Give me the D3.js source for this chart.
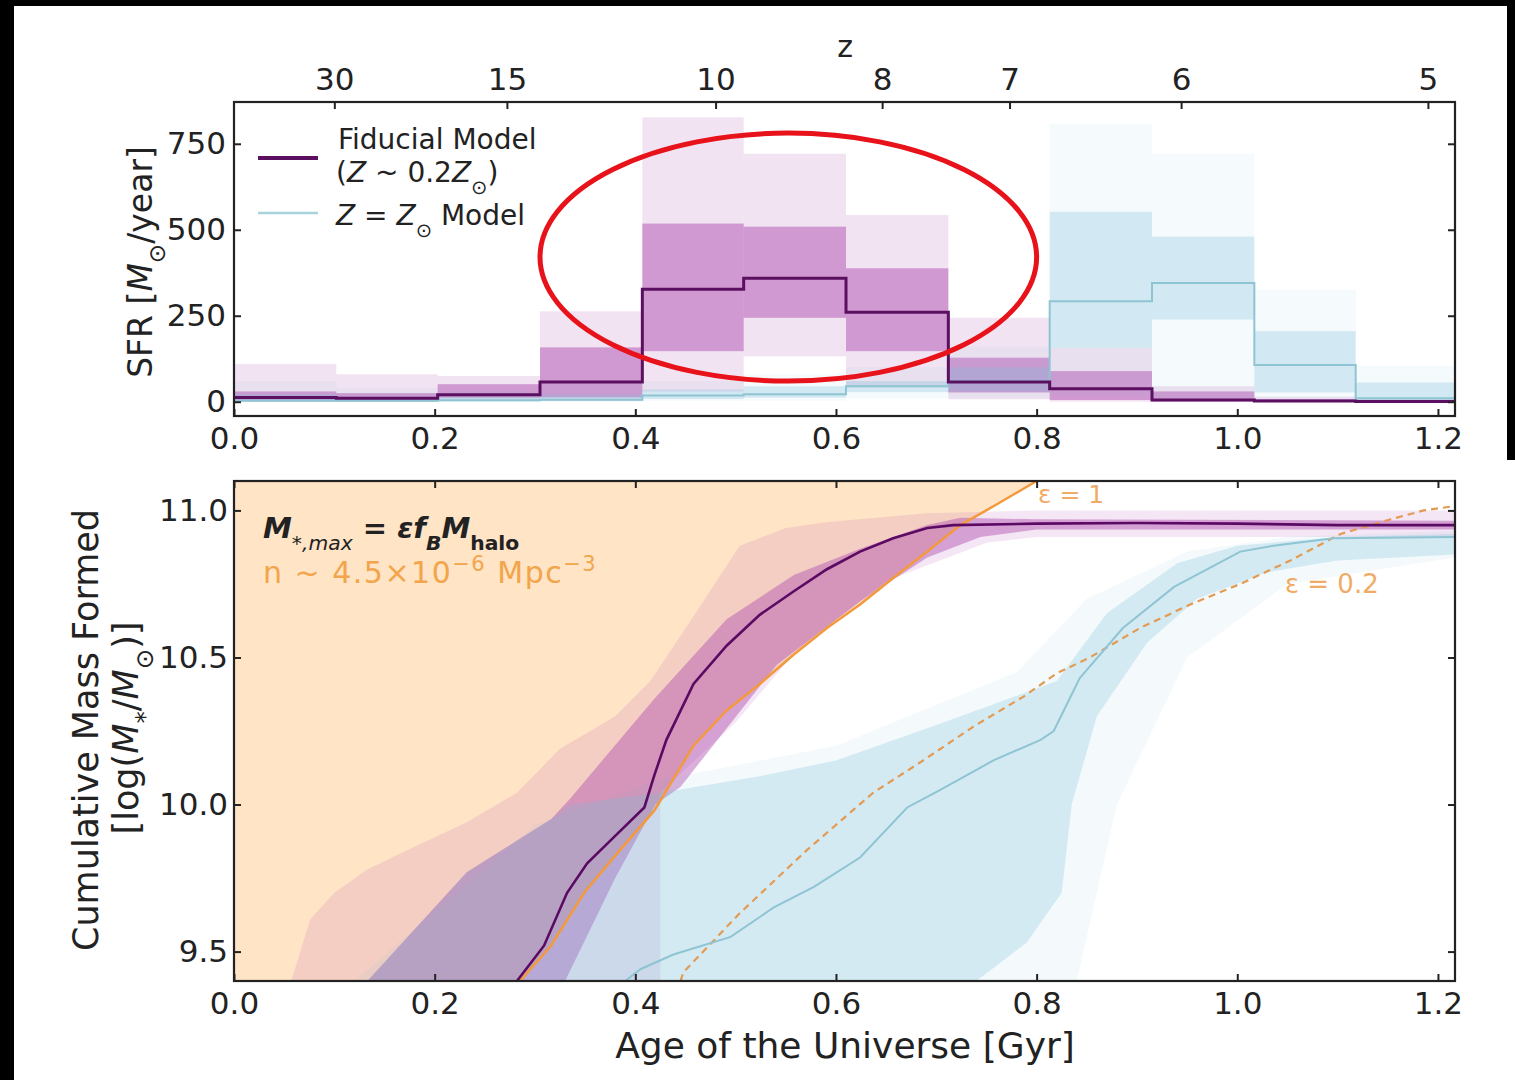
<!DOCTYPE html>
<html>
<head>
<meta charset="utf-8">
<script src="https://cdn.jsdelivr.net/npm/d3@7"></script>
<style>
    body { margin: 0; background: #fff; }
    text { font-family: "DejaVu Sans", sans-serif; fill: #222; }
</style>
</head>
<body>
<div id="graph"></div>
<script>

// ---- data ----

// SFR histogram bins, age of universe [Gyr]
const binEdges = [0, 0.102, 0.203, 0.305, 0.407, 0.508, 0.61, 0.712, 0.813, 0.915, 1.017, 1.118, 1.22];

// fiducial model (Z ~ 0.2 Zsun), SFR [Msun/yr]
const fidMed  = [12, 10, 20, 57, 327, 359, 260, 57, 38, 5, 2, 1];
const fidLo68 = [3, 2, 12, 13, 147, 244, 147, 27, 5, 1, 0, 0];
const fidHi68 = [30, 25, 51, 158, 518, 509, 388, 128, 89, 30, 8, 4];
const fidLo95 = [0, 0, 3, 3, 30, 132, 46, 7, 0, 0, 0, 0];
const fidHi95 = [110, 80, 75, 263, 827, 721, 543, 244, 157, 45, 15, 8];

// Z = Zsun model, SFR [Msun/yr]
const solMed  = [3, 3, 4, 6, 18, 22, 45, 60, 292, 345, 107, 10];
const solLo68 = [0, 0, 1, 2, 8, 12, 28, 30, 157, 239, 27, 2];
const solHi68 = [22, 15, 15, 20, 35, 45, 60, 100, 552, 480, 205, 56];
const solLo95 = [0, 0, 0, 0, 2, 3, 10, 10, 20, 10, 5, 0];
const solHi95 = [60, 40, 30, 50, 60, 80, 100, 160, 808, 721, 326, 104];

// redshift ticks on the top axis and the age they sit at [Gyr]
const zLabels = ["30", "15", "10", "8", "7", "6", "5"];
const zAges   = [0.100, 0.272, 0.480, 0.646, 0.773, 0.944, 1.190];

// red ellipse drawn over the peak (age range, SFR range)
const highlightAge = [0.305, 0.800];
const highlightSfr = [60, 781];

// cumulative mass formed, [age Gyr, log M*]
const fidMassMed = [[0.282, 9.40], [0.309, 9.52], [0.332, 9.70], [0.352, 9.80], [0.382, 9.90], [0.409, 9.99],
    [0.419, 10.10], [0.431, 10.22], [0.458, 10.41], [0.491, 10.54], [0.524, 10.645], [0.558, 10.725],
    [0.591, 10.80], [0.624, 10.86], [0.657, 10.905], [0.691, 10.94], [0.717, 10.95], [0.8, 10.955],
    [0.9, 10.957], [1.0, 10.955], [1.1, 10.95], [1.217, 10.95]];
const fidMassHi68 = [[0.133, 9.40], [0.232, 9.77], [0.316, 9.95], [0.335, 10.02], [0.419, 10.36], [0.491, 10.63],
    [0.558, 10.78], [0.624, 10.87], [0.691, 10.95], [0.724, 10.975], [0.8, 10.97], [1.217, 10.965]];
const fidMassLo68 = [[0.33, 9.40], [0.38, 9.75], [0.42, 10.0], [0.445, 10.06], [0.541, 10.475], [0.624, 10.69],
    [0.691, 10.84], [0.744, 10.91], [0.8, 10.935], [1.217, 10.935]];
const fidMassHi95 = [[0.057, 9.40], [0.076, 9.61], [0.1, 9.70], [0.133, 9.78], [0.182, 9.86], [0.232, 9.94],
    [0.282, 10.04], [0.325, 10.19], [0.38, 10.30], [0.415, 10.42], [0.46, 10.65], [0.504, 10.88],
    [0.55, 10.94], [0.59, 10.96], [0.69, 10.99], [0.8, 11.0], [1.217, 11.0]];
const fidMassLo95 = [[0.425, 9.40], [0.425, 10.04], [0.5, 10.28], [0.56, 10.52], [0.65, 10.76], [0.75, 10.89],
    [0.8, 10.91], [1.217, 10.91]];

const solMassMed = [[0.39, 9.40], [0.405, 9.44], [0.438, 9.49], [0.495, 9.55], [0.538, 9.65], [0.578, 9.72],
    [0.624, 9.82], [0.671, 9.99], [0.704, 10.05], [0.757, 10.15], [0.804, 10.22], [0.817, 10.25],
    [0.843, 10.43], [0.886, 10.60], [0.937, 10.74], [1.003, 10.86], [1.036, 10.88], [1.096, 10.905],
    [1.217, 10.91]];
const solMassHi68 = [[0.133, 9.40], [0.232, 9.77], [0.316, 9.95], [0.335, 10.0], [0.425, 10.04], [0.53, 10.10],
    [0.60, 10.15], [0.70, 10.27], [0.82, 10.42], [0.87, 10.65], [0.94, 10.82], [1.0, 10.88],
    [1.1, 10.91], [1.217, 10.92]];
const solMassLo68 = [[0.74, 9.40], [0.79, 9.53], [0.825, 9.70], [0.835, 10.0], [0.86, 10.3], [0.91, 10.55],
    [0.96, 10.7], [1.03, 10.79], [1.1, 10.83], [1.217, 10.85]];
const solMassHi95 = [[0.12, 9.40], [0.3, 9.93], [0.42, 10.08], [0.6, 10.2], [0.78, 10.45], [0.85, 10.7],
    [0.95, 10.86], [1.05, 10.91], [1.217, 10.93]];
const solMassLo95 = [[0.84, 9.40], [0.88, 10.0], [0.95, 10.5], [1.05, 10.75], [1.217, 10.84]];

// maximum stellar mass curves, eps * f_b * M_halo
const eps1 = [[0.285, 9.40], [0.316, 9.52], [0.349, 9.70], [0.376, 9.81], [0.419, 9.98], [0.458, 10.20],
    [0.491, 10.32], [0.524, 10.41], [0.558, 10.51], [0.591, 10.60], [0.624, 10.68], [0.657, 10.77],
    [0.691, 10.86], [0.724, 10.95], [0.76, 11.02], [0.80, 11.10]];
const eps02 = [[0.445, 9.40], [0.448, 9.43], [0.504, 9.63], [0.571, 9.845], [0.637, 10.04], [0.687, 10.15],
    [0.737, 10.265], [0.787, 10.367], [0.82, 10.446], [0.853, 10.50], [0.903, 10.60], [0.953, 10.68],
    [1.003, 10.75], [1.053, 10.83], [1.103, 10.92], [1.153, 10.97], [1.186, 11.0], [1.217, 11.015]];

const ageTicks  = [0, 0.2, 0.4, 0.6, 0.8, 1.0, 1.2];
const sfrTicks  = [0, 250, 500, 750];
const massTicks = [9.5, 10.0, 10.5, 11.0];


// ---- layout ----
let vis = {};
vis.W = 1515; vis.H = 1080;
vis.left = 234; vis.right = 1455;
vis.top1 = 102; vis.bot1 = 416;
vis.top2 = 481; vis.bot2 = 981;

vis.purple = "#b050b0";
vis.blue = "#78bcd8";

vis.x = d3.scaleLinear().domain([0, 1.217]).range([vis.left, vis.right]);
vis.ySfr = d3.scaleLinear().domain([-41.5, 871.5]).range([vis.bot1, vis.top1]);
vis.yMass = d3.scaleLinear().domain([9.4, 11.1]).range([vis.bot2, vis.top2]);

vis.svg = d3.select("#graph").append("svg")
    .attr("width", vis.W)
    .attr("height", vis.H);

vis.svg.append("rect").attr("width", vis.W).attr("height", vis.H).attr("fill", "#fff");

let defs = vis.svg.append("defs");
defs.append("clipPath").attr("id", "clip1").append("rect")
    .attr("x", vis.left).attr("y", vis.top1)
    .attr("width", vis.right - vis.left).attr("height", vis.bot1 - vis.top1);
defs.append("clipPath").attr("id", "clip2").append("rect")
    .attr("x", vis.left).attr("y", vis.top2)
    .attr("width", vis.right - vis.left).attr("height", vis.bot2 - vis.top2);


// ---- top panel: SFR histograms ----
let g1 = vis.svg.append("g").attr("clip-path", "url(#clip1)");

function drawBands(lo, hi, color, opacity) {
    g1.append("g").selectAll("rect")
        .data(d3.range(lo.length))
        .enter().append("rect")
        .attr("x", i => vis.x(binEdges[i]))
        .attr("width", i => vis.x(binEdges[i + 1]) - vis.x(binEdges[i]))
        .attr("y", i => vis.ySfr(hi[i]))
        .attr("height", i => vis.ySfr(lo[i]) - vis.ySfr(hi[i]))
        .attr("fill", color)
        .attr("fill-opacity", opacity);
}

function stepLine(med) {
    let pts = med.map((v, i) => [binEdges[i], v]);
    pts.push([binEdges[binEdges.length - 1], med[med.length - 1]]);
    return d3.line()
        .x(d => vis.x(d[0]))
        .y(d => vis.ySfr(d[1]))
        .curve(d3.curveStepAfter)(pts);
}

drawBands(fidLo95, fidHi95, vis.purple, 0.16);
drawBands(fidLo68, fidHi68, vis.purple, 0.5);
drawBands(solLo95, solHi95, vis.blue, 0.07);
drawBands(solLo68, solHi68, vis.blue, 0.28);

g1.append("path").attr("d", stepLine(solMed))
    .attr("fill", "none").attr("stroke", "#8fc4d2").attr("stroke-width", 2);
g1.append("path").attr("d", stepLine(fidMed))
    .attr("fill", "none").attr("stroke", "#5b0f60").attr("stroke-width", 3);


// ---- bottom panel: cumulative mass ----
let g2 = vis.svg.append("g").attr("clip-path", "url(#clip2)");

let massLine = d3.line()
    .x(d => vis.x(d[0]))
    .y(d => vis.yMass(d[1]));

function bandPath(upper, lower) {
    return massLine(upper.concat(lower.slice().reverse())) + "Z";
}

// region above eps = 1 (mass larger than the halo allows)
let xDom = vis.x.domain(), yDom = vis.yMass.domain();
g2.append("path")
    .attr("d", massLine([[xDom[0], yDom[0]]].concat(eps1, [[xDom[0], yDom[1]]])) + "Z")
    .attr("fill", "#ffe4c6");

g2.append("path").attr("d", bandPath(fidMassHi95, fidMassLo95))
    .attr("fill", vis.purple).attr("fill-opacity", 0.14);
g2.append("path").attr("d", bandPath(fidMassHi68, fidMassLo68))
    .attr("fill", vis.purple).attr("fill-opacity", 0.46);
g2.append("path").attr("d", bandPath(solMassHi95, solMassLo95))
    .attr("fill", vis.blue).attr("fill-opacity", 0.08);
g2.append("path").attr("d", bandPath(solMassHi68, solMassLo68))
    .attr("fill", vis.blue).attr("fill-opacity", 0.26);

g2.append("path").attr("d", massLine(eps02))
    .attr("fill", "none").attr("stroke", "#e39a52").attr("stroke-width", 2.2)
    .attr("stroke-dasharray", "7,5");
g2.append("path").attr("d", massLine(eps1))
    .attr("fill", "none").attr("stroke", "#f39a3c").attr("stroke-width", 2.5);
g2.append("path").attr("d", massLine(solMassMed))
    .attr("fill", "none").attr("stroke", "#8fc4d2").attr("stroke-width", 2);
g2.append("path").attr("d", massLine(fidMassMed))
    .attr("fill", "none").attr("stroke", "#5a0a62").attr("stroke-width", 2.6);


// ---- axes ----
function styleAxis(g) {
    g.select(".domain").remove();
    g.selectAll(".tick line").attr("stroke", "#222").attr("stroke-width", 2);
    g.selectAll(".tick text").style("font-size", "31px").attr("fill", "#222");
}

function frame(top, bot) {
    vis.svg.append("rect")
        .attr("x", vis.left).attr("y", top)
        .attr("width", vis.right - vis.left).attr("height", bot - top)
        .attr("fill", "none").attr("stroke", "#222").attr("stroke-width", 2.2);
}

let fmt1 = d3.format(".1f");

// top panel
vis.svg.append("g").attr("transform", "translate(0," + vis.bot1 + ")")
    .call(d3.axisBottom(vis.x).tickValues(ageTicks).tickFormat(fmt1).tickSizeInner(-7).tickSizeOuter(0).tickPadding(11))
    .call(styleAxis);
vis.svg.append("g").attr("transform", "translate(0," + vis.top1 + ")")
    .call(d3.axisTop(vis.x).tickValues(zAges).tickFormat((d, i) => zLabels[i]).tickSizeInner(-7).tickSizeOuter(0).tickPadding(12))
    .call(styleAxis);
vis.svg.append("g").attr("transform", "translate(" + vis.left + ",0)")
    .call(d3.axisLeft(vis.ySfr).tickValues(sfrTicks).tickSizeInner(-7).tickSizeOuter(0).tickPadding(8))
    .call(styleAxis);
vis.svg.append("g").attr("transform", "translate(" + vis.right + ",0)")
    .call(d3.axisRight(vis.ySfr).tickValues(sfrTicks).tickFormat("").tickSizeInner(-7).tickSizeOuter(0))
    .call(styleAxis);
frame(vis.top1, vis.bot1);

// bottom panel
vis.svg.append("g").attr("transform", "translate(0," + vis.bot2 + ")")
    .call(d3.axisBottom(vis.x).tickValues(ageTicks).tickFormat(fmt1).tickSizeInner(-7).tickSizeOuter(0).tickPadding(11))
    .call(styleAxis);
vis.svg.append("g").attr("transform", "translate(0," + vis.top2 + ")")
    .call(d3.axisTop(vis.x).tickValues(ageTicks).tickFormat("").tickSizeInner(-7).tickSizeOuter(0))
    .call(styleAxis);
vis.svg.append("g").attr("transform", "translate(" + vis.left + ",0)")
    .call(d3.axisLeft(vis.yMass).tickValues(massTicks).tickFormat(fmt1).tickSizeInner(-7).tickSizeOuter(0).tickPadding(6))
    .call(styleAxis);
vis.svg.append("g").attr("transform", "translate(" + vis.right + ",0)")
    .call(d3.axisRight(vis.yMass).tickValues(massTicks).tickFormat("").tickSizeInner(-7).tickSizeOuter(0))
    .call(styleAxis);
frame(vis.top2, vis.bot2);


// ---- labels ----
function addRich(sel, parts) {
    parts.forEach(p => {
        let t = sel.append("tspan").text(p.t);
        if (p.i) t.attr("font-style", "italic");
        if (p.b) t.attr("font-weight", "bold");
        if (p.sub) t.attr("baseline-shift", "sub").style("font-size", "0.7em");
        if (p.sup) t.attr("baseline-shift", "super").style("font-size", "0.7em");
    });
    return sel;
}

vis.svg.append("text").attr("x", 845).attr("y", 57)
    .attr("text-anchor", "middle").style("font-size", "30px").text("z");

addRich(vis.svg.append("text")
    .attr("transform", "translate(152,262) rotate(-90)")
    .attr("text-anchor", "middle").style("font-size", "33px"),
    [{t: "SFR ["}, {t: "M", i: 1}, {t: "⊙", sub: 1}, {t: "/year]"}]);

vis.svg.append("text")
    .attr("transform", "translate(98,730) rotate(-90)")
    .attr("text-anchor", "middle").style("font-size", "35px")
    .text("Cumulative Mass Formed");
addRich(vis.svg.append("text")
    .attr("transform", "translate(138,728) rotate(-90)")
    .attr("text-anchor", "middle").style("font-size", "35px"),
    [{t: "[log("}, {t: "M", i: 1}, {t: "*", sub: 1}, {t: "/"}, {t: "M", i: 1}, {t: "⊙", sub: 1}, {t: ")]"}]);

vis.svg.append("text").attr("x", 845).attr("y", 1058)
    .attr("text-anchor", "middle").style("font-size", "36px")
    .text("Age of the Universe [Gyr]");

// legend
vis.svg.append("line").attr("x1", 258).attr("x2", 318).attr("y1", 158).attr("y2", 158)
    .attr("stroke", "#5b0f60").attr("stroke-width", 4);
vis.svg.append("line").attr("x1", 258).attr("x2", 318).attr("y1", 213).attr("y2", 213)
    .attr("stroke", "#a9d4de").attr("stroke-width", 2.5);
vis.svg.append("text").attr("x", 338).attr("y", 149).style("font-size", "28px").text("Fiducial Model");
addRich(vis.svg.append("text").attr("x", 336).attr("y", 182).style("font-size", "28px"),
    [{t: "("}, {t: "Z", i: 1}, {t: " ~ 0.2"}, {t: "Z", i: 1}, {t: "⊙", sub: 1}, {t: ")"}]);
addRich(vis.svg.append("text").attr("x", 336).attr("y", 225).style("font-size", "28px"),
    [{t: "Z", i: 1}, {t: " = "}, {t: "Z", i: 1}, {t: "⊙", sub: 1}, {t: " Model"}]);

// annotations in the mass panel
addRich(vis.svg.append("text").attr("x", 263).attr("y", 538).style("font-size", "29px"),
    [{t: "M", i: 1, b: 1}, {t: "*,max", i: 1, sub: 1}, {t: " = ", b: 1}, {t: "εf", i: 1, b: 1},
     {t: "B", i: 1, sub: 1, b: 1}, {t: "M", i: 1, b: 1}, {t: "halo", sub: 1, b: 1}]);
addRich(vis.svg.append("text").attr("x", 263).attr("y", 583).style("font-size", "30px")
    .style("letter-spacing", "1.5px").style("fill", "#f2a54a"),
    [{t: "n ~ 4.5×10"}, {t: "−6", sup: 1}, {t: " Mpc"}, {t: "−3", sup: 1}]);

vis.svg.append("text").attr("x", 1038).attr("y", 503).style("font-size", "25px")
    .style("fill", "#f0ac66").text("ε = 1");
vis.svg.append("text").attr("x", 1285).attr("y", 593).style("font-size", "26px")
    .style("fill", "#f0ac66").text("ε = 0.2");

// red ellipse marking the peak
let ex = highlightAge.map(vis.x), ey = highlightSfr.map(vis.ySfr);
vis.svg.append("ellipse")
    .attr("cx", (ex[0] + ex[1]) / 2).attr("cy", (ey[0] + ey[1]) / 2)
    .attr("rx", (ex[1] - ex[0]) / 2).attr("ry", Math.abs(ey[0] - ey[1]) / 2)
    .attr("fill", "none").attr("stroke", "#e8121a").attr("stroke-width", 5);

// black strips at the picture's edges
vis.svg.append("rect").attr("x", 0).attr("y", 0).attr("width", vis.W).attr("height", 6).attr("fill", "#000");
vis.svg.append("rect").attr("x", 0).attr("y", 0).attr("width", 14).attr("height", vis.H).attr("fill", "#000");
vis.svg.append("rect").attr("x", 1507).attr("y", 0).attr("width", 8).attr("height", 460).attr("fill", "#000");

</script>
</body>
</html>
